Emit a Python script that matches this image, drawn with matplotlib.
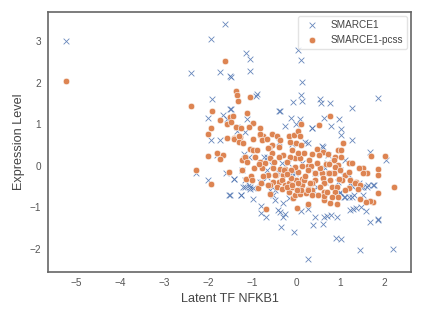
import matplotlib
matplotlib.use("Agg")
import matplotlib.pyplot as plt

plt.rcParams['font.family'] = ['Liberation Sans', 'DejaVu Sans']

x_label = "Latent TF NFKB1"
y_label = "Expression Level"
series_names = ["SMARCE1", "SMARCE1-pcss"]

blue_x = [-5.23,-1.61,-1.93,-2.38,-1.72,-1.5,-1.92,-1.67,-2.01,-1.5,-1.58,-1.94,-1.73,
-1.14,-1.06,-1.05,-1.47,0.05,0.12,0.14,0.11,0.14,-0.08,-0.88,-0.91,0.55,0.57,0.77,1.27,1.85,
-0.36,-0.38,-0.11,0.08,0.0,-0.25,0.36,0.35,0.64,0.97,0.79,1.02,1.03,1.27,-1.48,-1.11,-1.35,-1.35,-1.16,
-1.79,-2.27,-1.59,-2.01,-1.53,-1.26,-0.98,-0.80,-0.80,-0.68,-0.42,-0.36,-0.30,-0.25,-0.35,-0.04,0.27,
0.11,0.26,0.43,0.38,0.61,0.64,0.70,0.79,0.92,0.91,1.02,1.44,2.21,1.68,1.87,1.87,1.23,1.30,1.36,1.48,1.58,
1.0,1.09,1.19,1.32,1.48,1.61,1.74,1.68,2.04,0.58,0.28,0.20,-0.38,-1.18,-1.08,-0.74,-1.41,-1.16,-1.08,-1.04,
-0.97,-1.2,-0.78,-0.55,-0.40,-0.48,-0.29,-0.17,-0.59,0.09,-0.10,0.13,0.47,1.19,1.0,1.30,0.70,-0.67,
-0.67,-1.42,-1.24,-1.05,-1.16,-1.50,-1.25,-0.67,-0.52,-0.82,-0.10,-0.18,-0.32,-0.48,-0.02,
0.62,0.72,1.11,0.85,0.66,1.07,0.96,1.23,1.42,1.53,1.64,1.76,1.26,1.53,1.11,1.00,0.39,0.66,0.43]
blue_y = [3.01,3.41,3.06,2.23,2.26,2.15,1.61,1.22,1.14,1.37,1.12,0.62,0.62,
2.72,2.56,2.29,2.14,2.79,2.55,2.01,1.71,1.56,1.53,1.73,1.69,1.62,1.52,1.51,1.40,1.63,
1.32,1.31,1.14,1.12,1.0,0.95,0.92,0.90,1.15,1.12,0.95,0.88,0.75,0.62,1.37,1.13,0.94,0.85,0.82,
0.26,-0.16,-0.16,-0.34,-0.70,-0.70,-0.80,-0.96,-1.14,-1.23,-1.06,-1.10,-1.23,-1.16,-1.46,-1.58,-2.24,
-1.08,-1.04,-1.23,-1.42,-1.39,-1.22,-1.20,-1.18,-1.23,-1.74,-1.77,-2.02,-2.00,-1.35,-1.31,-1.28,-1.06,-1.04,-1.02,-0.98,-1.08,
-0.66,-0.74,-0.74,-0.70,-0.50,-0.50,-0.47,0.34,0.14,0.48,0.54,0.58,0.58,0.29,0.22,0.22,-0.32,-0.34,-0.46,-0.56,
-0.54,-0.50,-0.38,0.02,-0.18,-0.82,-0.90,-0.78,-0.58,-0.54,-0.18,0.06,-0.50,-0.22,-0.10,-0.50,0.06,-0.10,
0.22,-0.32,-0.11,-0.50,-0.50,-0.70,-0.70,-0.26,-0.70,-0.38,0.53,0.07,0.07,-0.58,-0.18,
0.46,0.27,0.14,-0.18,-0.06,-0.22,-0.38,-0.42,-0.42,-0.50,-0.46,-0.46,-0.74,-0.70,-0.75,-0.62,-0.58,-0.38,-0.18]

orange_x = [-5.24,-1.61,-2.38,-1.92,-1.73,-1.58,-1.5,-1.93,-2.01,-1.57,
-1.36,-1.35,-1.32,-1.05,-1.12,-1.44,-1.48,-1.36,-0.97,-1.08,-1.25,-0.83,-0.82,-0.76,-1.27,-1.41,
0.11,0.53,0.77,-2.01,-1.79,-1.67,-1.72,-2.27,-1.52,-1.94,
-1.42,-1.29,-1.30,-1.20,-0.97,-0.82,-0.78,-0.67,-0.55,-0.55,-0.62,-0.43,-0.37,-0.38,-0.55,-0.29,-0.40,
-0.17,-0.05,0.05,0.08,-0.14,0.0,0.11,-0.10,-0.02,0.09,0.17,-0.14,0.36,0.48,0.62,0.53,0.73,1.06,0.94,1.02,0.89,1.02,0.85,0.96,1.19,1.27,
1.70,2.03,1.85,1.86,2.22,1.86,1.74,1.67,1.58,1.44,1.52,1.61,1.52,1.42,1.36,1.21,1.11,0.92,0.77,0.64,0.28,0.02,-0.68,-0.59,
-1.23,-1.14,-1.03,-1.01,-0.86,-0.80,-1.22,-1.16,-1.11,-1.06,-0.97,-0.89,-0.93,-0.82,-0.70,-0.95,-0.78,-0.52,-0.64,-0.36,-0.25,-0.46,-0.29,
-0.40,-0.52,-0.33,-0.59,-0.44,-0.25,-0.33,-0.17,-0.10,-0.17,-0.08,-0.02,0.09,0.23,0.36,0.26,0.13,0.0,0.13,-0.12,0.05,-0.02,0.13,0.26,0.33,0.28,
0.42,0.58,0.42,0.36,0.62,0.73,0.85,0.77,0.64,0.55,0.64,0.81,0.92,0.89,0.64,0.81,0.94,1.11,1.19,1.23,1.34,1.45,1.40,1.04,0.89,0.47,0.68,0.55,
-0.48,-0.21,0.05,0.17,0.11,0.02,-0.27,-0.11,-0.63,-0.09,0.32,0.28,0.36,0.48,0.87,0.75,
-0.60,-0.50,-0.85,-0.20,0.05,0.30,0.75,0.70,1.00,0.20,-0.65,-0.75,-0.20,0.50,0.98]
orange_y = [2.05,2.53,1.44,1.33,1.10,1.01,1.18,0.92,0.77,0.68,
1.79,1.71,1.56,1.66,1.28,1.20,1.06,0.94,1.04,0.94,0.91,0.90,0.75,0.72,0.70,0.66,
1.01,0.98,1.19,0.23,0.30,0.26,0.16,-0.09,-0.15,-0.43,
0.64,0.71,0.58,0.56,0.65,0.76,0.62,0.64,0.76,0.50,0.42,0.72,0.62,0.45,0.30,0.26,0.22,
0.71,0.75,0.83,0.72,0.58,0.54,0.50,0.38,0.18,0.18,0.32,0.22,0.29,0.40,0.34,0.26,0.29,0.54,0.38,0.38,0.22,0.22,0.14,0.02,0.06,0.08,
0.24,0.24,-0.08,-0.22,-0.50,-0.66,-0.88,-0.84,-0.88,-0.80,-0.06,-0.16,-0.18,-0.06,-0.38,-0.54,-0.58,-0.91,-0.90,-0.82,-0.91,-1.02,-1.03,-0.67,
-0.11,-0.32,-0.24,-0.35,-0.54,-0.40,0.13,0.21,0.09,0.40,0.38,0.37,0.22,0.10,0.08,-0.06,-0.06,-0.06,-0.22,-0.08,-0.08,-0.22,-0.22,
-0.38,-0.38,-0.34,-0.46,-0.50,-0.46,-0.56,-0.62,-0.50,-0.42,-0.78,-0.70,-0.67,-0.66,-0.58,-0.56,-0.46,-0.34,-0.32,-0.28,-0.14,-0.02,0.0,0.0,0.0,-0.10,
-0.18,-0.18,-0.34,-0.40,-0.30,-0.18,-0.18,-0.34,-0.42,-0.51,-0.62,-0.50,-0.50,-0.62,-0.72,-0.74,-0.74,-0.22,-0.14,-0.34,-0.42,-0.46,-0.56,-0.34,-0.02,0.06,0.05,-0.06,
-0.22,-0.50,-0.42,-0.34,-0.58,-0.58,-0.10,-0.10,0.42,-0.46,-0.42,-0.58,-0.70,0.08,-0.18,-0.18,
0.18,0.10,0.05,0.10,0.30,0.15,0.05,-0.62,-0.10,-0.25,-0.45,-0.25,-0.20,-0.70,-0.32]

fig = plt.figure(figsize=(4.23, 3.17), dpi=100)
ax = fig.add_axes([48/423, 1-271.5/317, 363/423, 259.5/317])
ax.scatter(blue_x, blue_y, marker='x', s=17, linewidths=0.6, color='#4c72b0', alpha=0.85, label=series_names[0], zorder=2)
ax.scatter(orange_x, orange_y, marker='o', s=22, edgecolors='white', linewidths=0.4, color='#dd8452', label=series_names[1], zorder=3)
ax.set_xlim(-5.64, 2.61)
ax.set_ylim(-2.54, 3.70)
ax.set_xticks([-5,-4,-3,-2,-1,0,1,2])
ax.set_yticks([-2,-1,0,1,2,3])
ax.tick_params(length=0, labelsize=7.2, labelcolor='#555555', pad=5)
ax.set_xlabel(x_label, fontsize=9.1, color='#444444', labelpad=3.5)
ax.set_ylabel(y_label, fontsize=9.1, color='#444444', labelpad=3.5)
for s in ax.spines.values():
    s.set_color('#666666')
    s.set_linewidth(1.2)
ax.legend(loc='upper right', fontsize=7.2, frameon=True, edgecolor='#dddddd', labelcolor='#444444',
          borderaxespad=0.4, handletextpad=0.9, labelspacing=0.5)
fig.savefig("out.png", dpi=100)
